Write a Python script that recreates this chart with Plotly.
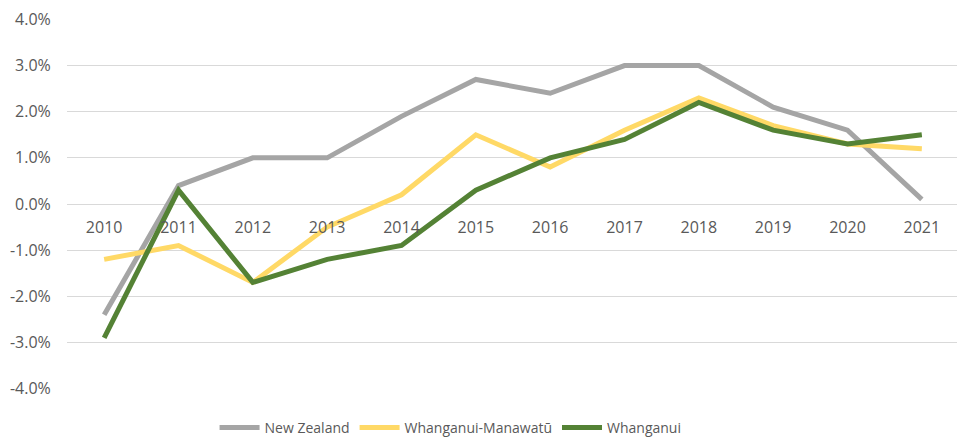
"""Annual growth: New Zealand vs Whanganui-Manawatū vs Whanganui, 2010-2021."""
import plotly.graph_objects as go

years = ["2010", "2011", "2012", "2013", "2014", "2015",
         "2016", "2017", "2018", "2019", "2020", "2021"]

new_zealand = [-2.4, 0.4, 1.0, 1.0, 1.9, 2.7, 2.4, 3.0, 3.0, 2.1, 1.6, 0.1]
whanganui_manawatu = [-1.2, -0.9, -1.7, -0.5, 0.2, 1.5, 0.8, 1.6, 2.3, 1.7, 1.3, 1.2]
whanganui = [-2.9, 0.3, -1.7, -1.2, -0.9, 0.3, 1.0, 1.4, 2.2, 1.6, 1.3, 1.5]

y_ticks = [-4, -3, -2, -1, 0, 1, 2, 3, 4]
y_labels = ["-4.0%", "-3.0%", "-2.0%", "-1.0%", "0.0%", "1.0%", "2.0%", "3.0%", "4.0%"]

SERIES = [
    ("New Zealand", new_zealand, "#A5A5A5"),
    ("Whanganui-Manawatū", whanganui_manawatu, "#FFD966"),
    ("Whanganui", whanganui, "#548235"),
]

FONT = "Open Sans, Liberation Sans, sans-serif"
TEXT_GREY = "#595959"

fig = go.Figure()
for name, vals, colour in SERIES:
    fig.add_trace(go.Scatter(
        x=years, y=vals, mode="lines", name=name,
        line=dict(color=colour, width=5),
    ))

# the page body adds an 8px margin, so the figure is sized to fit inside it
fig.update_layout(
    width=957, height=430,
    margin=dict(l=59, r=6, t=11, b=49, autoexpand=False),
    paper_bgcolor="white", plot_bgcolor="white",
    font=dict(family=FONT, size=16, color=TEXT_GREY),
    showlegend=True,
    legend=dict(
        orientation="h", x=0.43, xanchor="center", y=-0.062, yanchor="top",
        font=dict(size=14, color=TEXT_GREY),
        itemwidth=40, tracegroupgap=0,
    ),
)
fig.update_xaxes(
    type="category", range=[-0.5, len(years) - 0.5],
    anchor="free", position=0.5, automargin=False,
    showgrid=False, showline=False, zeroline=False,
    ticks="outside", ticklen=9, tickcolor="rgba(0,0,0,0)",
    tickfont=dict(size=16, color=TEXT_GREY),
)
# tiny padding so the +/-4% gridlines at the edges are still drawn
fig.update_yaxes(
    range=[-4.01, 4.01], tickvals=y_ticks, ticktext=y_labels, automargin=False,
    showgrid=True, gridcolor="#D9D9D9", gridwidth=1.3,
    zeroline=False, showline=False,
    ticks="outside", ticklen=12, tickcolor="rgba(0,0,0,0)",
    tickfont=dict(size=16, color=TEXT_GREY),
)

fig.write_html("out.html")
